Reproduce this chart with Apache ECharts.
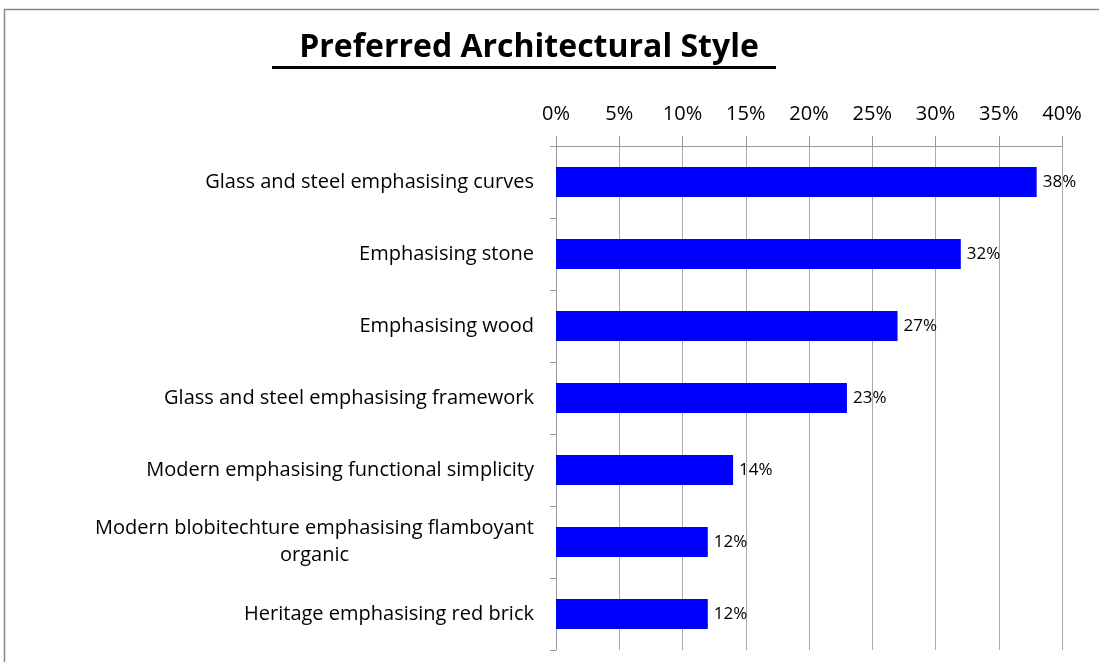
<!DOCTYPE html>
<html>
<head>
<meta charset="utf-8">
<script src="https://cdn.jsdelivr.net/npm/echarts@6/dist/echarts.min.js"></script>
<style>
  html, body { margin: 0; padding: 0; background: #fff; }
  #chart { width: 1099px; height: 662px; }
</style>
</head>
<body>
<div id="chart"></div>
<script>
// categories, top to bottom
const styles = [
  'Glass and steel emphasising curves',
  'Emphasising stone',
  'Emphasising wood',
  'Glass and steel emphasising framework',
  'Modern emphasising functional simplicity',
  'Modern blobitechture emphasising flamboyant\norganic',
  'Heritage emphasising red brick'
];
// percent of respondents
const shares = [38, 32, 27, 23, 14, 12, 12];
const ticks = [0, 5, 10, 15, 20, 25, 30, 35, 40];

const chart = echarts.init(document.getElementById('chart'));
const font = 'Open Sans';

chart.setOption({
  animation: false,
  title: {
    text: 'Preferred Architectural Style',
    left: 524,
    top: 27,
    textAlign: 'center',
    textStyle: {
      fontFamily: font,
      fontWeight: 'bold',
      fontSize: 32,
      color: '#000'
    }
  },
  graphic: [
    {
      type: 'rect',
      shape: {x: 4.5, y: 9.5, width: 1200, height: 700},
      style: {fill: 'none', stroke: '#888', lineWidth: 1.5},
      silent: true
    },
    {
      type: 'rect',
      shape: {x: 272, y: 66, width: 504, height: 3},
      style: {fill: '#000'},
      silent: true
    }
  ],
  grid: {left: 556, right: 37, top: 146, bottom: 12},
  xAxis: {
    type: 'value',
    position: 'top',
    min: ticks[0],
    max: ticks[ticks.length - 1],
    interval: 5,
    axisLine: {show: true, lineStyle: {color: '#999', width: 1}},
    axisTick: {show: true, inside: false, length: 10, lineStyle: {color: '#999'}},
    splitLine: {show: true, lineStyle: {color: '#aaa', width: 1}},
    axisLabel: {
      formatter: '{value}%',
      fontFamily: font,
      fontSize: 20,
      color: '#000',
      margin: 22
    }
  },
  yAxis: {
    type: 'category',
    data: styles,
    inverse: true,
    axisLine: {show: true, lineStyle: {color: '#999', width: 1}},
    axisTick: {show: true, length: 6, lineStyle: {color: '#999'}},
    splitLine: {show: false},
    axisLabel: {
      margin: 22,
      fontFamily: font,
      fontSize: 20,
      color: '#000',
      lineHeight: 27,
      formatter: v => v.split('\n').map(s => '{c|' + s + '}').join('\n'),
      rich: {c: {align: 'center', fontFamily: font, fontSize: 20, color: '#000', lineHeight: 27}}
    }
  },
  series: [{
    type: 'bar',
    data: shares,
    barCategoryGap: '58%',
    itemStyle: {color: '#0000ff'},
    label: {
      show: true,
      position: 'right',
      distance: 6,
      formatter: '{c}%',
      fontFamily: font,
      fontSize: 17,
      color: '#000'
    }
  }]
});
</script>
</body>
</html>
